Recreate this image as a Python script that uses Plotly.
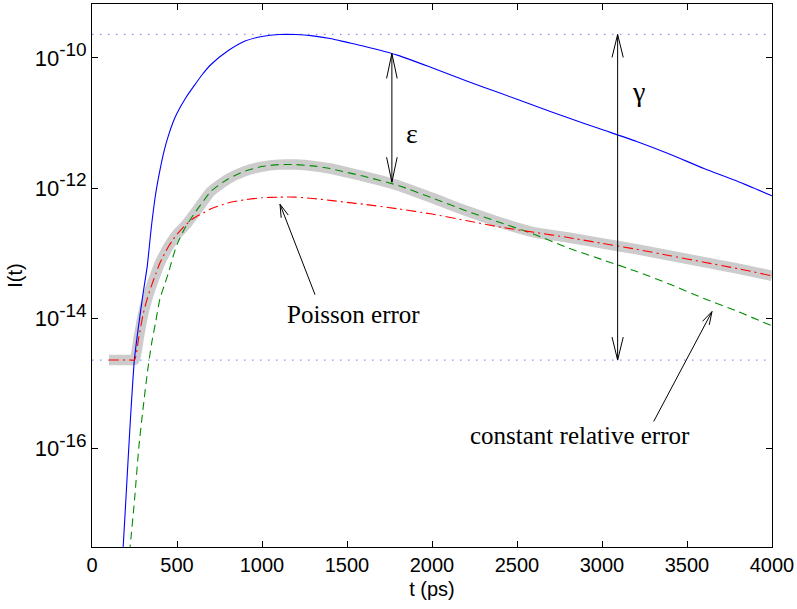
import numpy as np
import plotly.graph_objects as go

# time grid (ps)
t = [100, 125, 150, 175, 200, 225, 250, 275, 300, 325, 350, 375, 400, 425, 450, 475, 500,
     550, 600, 650, 700, 800, 900, 1000, 1100, 1200, 1300, 1400, 1500, 1600, 1800, 2000,
     2200, 2400, 2600, 2800, 3000, 3200, 3400, 3600, 3800, 4000]

# log10 of I(t) (None = not drawn)
blue_log = [None, None, None, -17.9, -16.76, -15.6, -14.62, -14.1, -13.63, -13.2, -12.58,
            -12.08, -11.72, -11.42, -11.19, -11.0, -10.85, -10.62, -10.43, -10.25, -10.1,
            -9.89, -9.74, -9.67, -9.64, -9.64, -9.66, -9.70, -9.76, -9.82, -9.96, -10.15,
            -10.35, -10.54, -10.73, -10.92, -11.10, -11.28, -11.48, -11.70, -11.90, -12.12]
green_log = [None, None, None, None, -18.2, -17.5, -16.8, -16.0, -15.4, -14.85, -14.4,
             -14.05, -13.7, -13.5, -13.3, -13.07, -12.87, -12.6, -12.4, -12.22, -12.05,
             -11.86, -11.74, -11.67, -11.64, -11.64, -11.66, -11.70, -11.76, -11.82, -11.96,
             -12.15, -12.35, -12.53, -12.71, -12.92, -13.10, -13.28, -13.48, -13.70, -13.90,
             -14.12]
red_log = [-14.645, -14.645, -14.645, -14.645, -14.645, -14.645, -14.645, -14.3, -13.95,
           -13.7, -13.5, -13.32, -13.15, -13.02, -12.9, -12.8, -12.71, -12.57, -12.46,
           -12.39, -12.32, -12.23, -12.18, -12.15, -12.14, -12.14, -12.16, -12.19, -12.22,
           -12.25, -12.32, -12.40, -12.50, -12.60, -12.68, -12.76, -12.85, -12.94, -13.04,
           -13.14, -13.24, -13.35]

gamma_top = 2.3e-10
gamma_bottom = 2.26e-15

X_RANGE = [0, 4000]
Y_RANGE = [-17.52, -9.17]
FIG_W, FIG_H = 797, 609
M_L, M_R, M_T, M_B = 92, 25, 4, 62
PLOT_W = FIG_W - M_L - M_R
PLOT_H = FIG_H - M_T - M_B


def to_lin(lst):
    return [None if v is None else 10 ** v for v in lst]


blue = to_lin(blue_log)
green = to_lin(green_log)
red = to_lin(red_log)
gr = np.array([np.nan if v is None else v for v in green], dtype=float)
rd = np.array(red, dtype=float)
gray = np.fmax(gr, rd)


def to_px(tv, lv):
    xp = M_L + PLOT_W * (tv - X_RANGE[0]) / (X_RANGE[1] - X_RANGE[0])
    yp = M_T + PLOT_H * (Y_RANGE[1] - lv) / (Y_RANGE[1] - Y_RANGE[0])
    return xp, yp


def to_paper(xp, yp):
    return (xp - M_L) / PLOT_W, (M_T + PLOT_H - yp) / PLOT_H


shapes = []


def seg(p0, p1):
    a = to_paper(*p0)
    b = to_paper(*p1)
    shapes.append(dict(type="line", xref="paper", yref="paper", x0=a[0], y0=a[1],
                       x1=b[0], y1=b[1], line=dict(color="black", width=1)))


def head(tip, tail, L, w):
    dx, dy = tail[0] - tip[0], tail[1] - tip[1]
    n = np.hypot(dx, dy)
    ux, uy = dx / n, dy / n
    px_, py_ = -uy, ux
    for s in (1, -1):
        seg(tip, (tip[0] + L * ux + s * w * px_, tip[1] + L * uy + s * w * py_))


def arrow(tip_data, tail_data, L, w, both=False):
    tip = to_px(*tip_data)
    tail = to_px(*tail_data)
    seg(tail, tip)
    head(tip, tail, L, w)
    if both:
        head(tail, tip, L, w)


# epsilon arrow (blue -> green at t=1764)
arrow((1764, -9.93), (1764, -11.91), 25, 5.3, both=True)
# gamma arrow
arrow((3092, np.log10(gamma_top)), (3092, np.log10(gamma_bottom)), 23, 5.6, both=True)
# Poisson error arrow
arrow((1106, -12.25), (1312, -13.64), 13, 3.8)
# constant relative error arrow
arrow((3647, -13.9), (3304, -15.59), 13, 3.8)

fig = go.Figure()
dot_style = dict(color="#9090ff", width=1.2, dash="1.5px,6.5px")
fig.add_trace(go.Scatter(x=X_RANGE, y=[gamma_top, gamma_top], mode="lines",
                         line=dot_style, hoverinfo="skip"))
fig.add_trace(go.Scatter(x=X_RANGE, y=[gamma_bottom, gamma_bottom], mode="lines",
                         line=dot_style, hoverinfo="skip"))
fig.add_trace(go.Scatter(x=t, y=gray, mode="lines",
                         line=dict(color="#cccccc", width=10.5, shape="spline", smoothing=0.6)))
fig.add_trace(go.Scatter(x=t, y=blue, mode="lines",
                         line=dict(color="#0000ff", width=1.1, shape="spline", smoothing=0.6)))
fig.add_trace(go.Scatter(x=t, y=green, mode="lines",
                         line=dict(color="#008c00", width=1.1, dash="8px,5px",
                                   shape="spline", smoothing=0.6)))
fig.add_trace(go.Scatter(x=t, y=red, mode="lines",
                         line=dict(color="#ff0000", width=1.1, dash="10px,4px,2px,4px",
                                   shape="spline", smoothing=0.6)))

serif = dict(family="Liberation Serif, Times New Roman, serif", color="black")
fig.add_annotation(x=1882, y=-11.157, text="ε", showarrow=False, font=dict(size=28, **serif))
fig.add_annotation(x=3213, y=-10.52, text="γ", showarrow=False, font=dict(size=28, **serif))
fig.add_annotation(x=1536, y=-13.95, text="Poisson error", showarrow=False,
                   font=dict(size=25, **serif))
fig.add_annotation(x=2872, y=-15.81, text="constant relative error", showarrow=False,
                   font=dict(size=25, **serif))

sans = dict(family="Liberation Sans, Arial, Helvetica, sans-serif", color="black")
y_ticks = [-16, -14, -12, -10]
fig.update_xaxes(range=X_RANGE, tickvals=[0, 500, 1000, 1500, 2000, 2500, 3000, 3500, 4000],
                 ticks="inside", ticklen=6, tickcolor="black", showline=True, linecolor="black",
                 linewidth=1, mirror="ticks", showgrid=False, zeroline=False,
                 tickfont=dict(size=20, **sans),
                 title=dict(text="t (ps)", font=dict(size=20, **sans), standoff=6))
fig.update_yaxes(type="log", range=Y_RANGE,
                 tickvals=[10.0 ** e for e in y_ticks],
                 ticktext=["10<sup><span style='font-size:19px'>%d</span></sup>" % e for e in y_ticks],
                 ticks="inside", ticklen=6, tickcolor="black", showline=True, linecolor="black",
                 linewidth=1, mirror="ticks", showgrid=False, zeroline=False,
                 tickfont=dict(size=22, **sans),
                 title=dict(text="I(t)", font=dict(size=20, **sans), standoff=6))
fig.update_layout(width=FIG_W, height=FIG_H, margin=dict(l=M_L, r=M_R, t=M_T, b=M_B),
                  paper_bgcolor="white", plot_bgcolor="white", showlegend=False,
                  shapes=shapes)

fig.write_html("out.html")
